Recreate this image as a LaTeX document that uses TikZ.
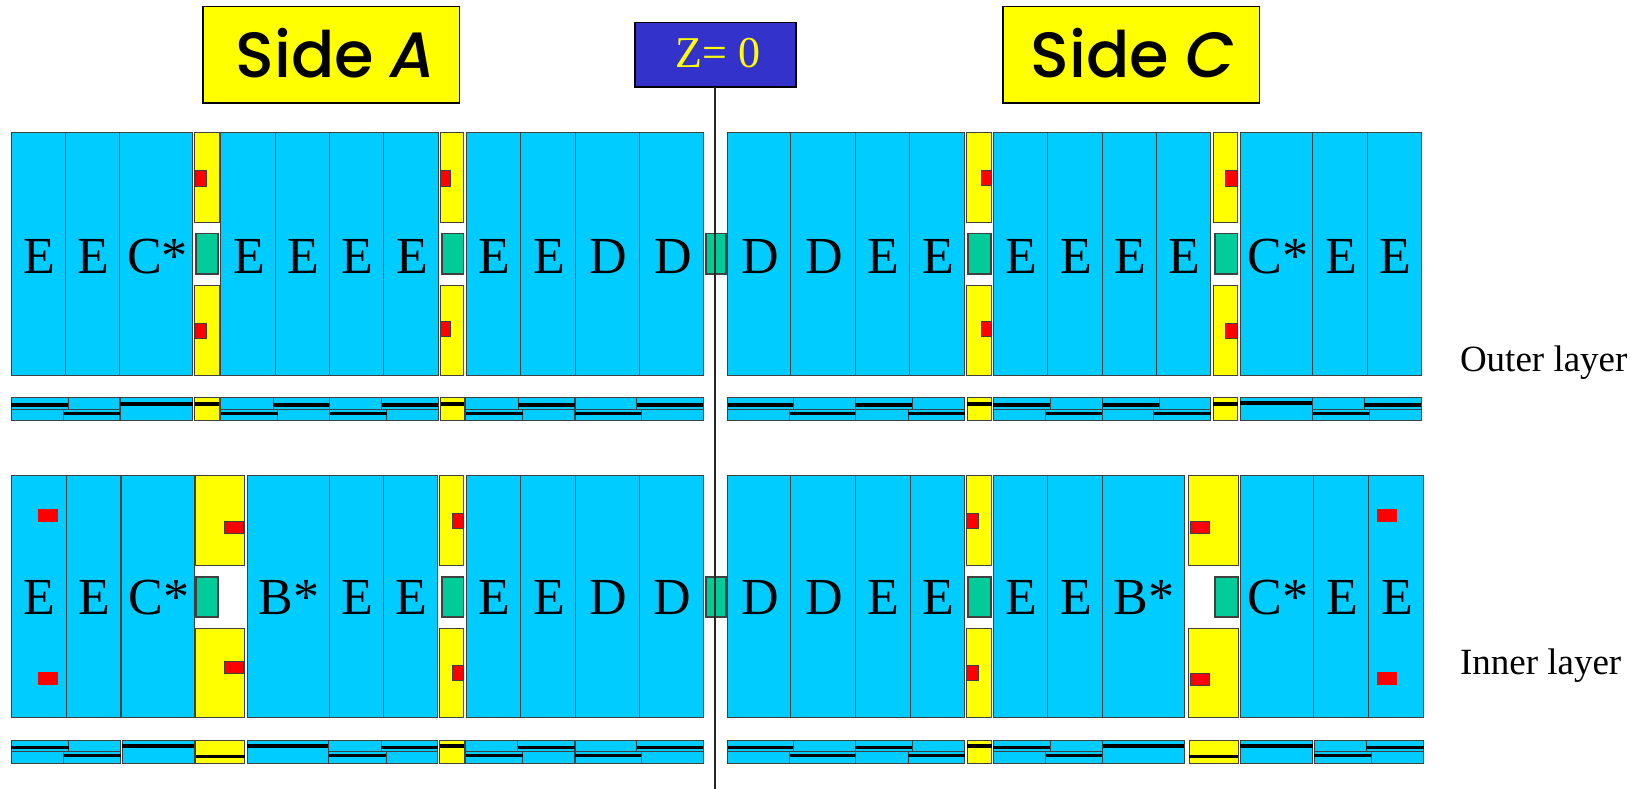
\documentclass[tikz,border=0pt]{standalone}
\usepackage{fontspec}
\setmainfont{Liberation Serif}
\newfontfamily\sidefont{Poppins Medium}
\newcommand{\labfont}{\fontsize{52}{52}\selectfont}
\definecolor{chamber}{HTML}{00CCFF}
\definecolor{yel}{HTML}{FFFF00}
\definecolor{grn}{HTML}{00CC99}
\definecolor{rd}{HTML}{FF0000}
\definecolor{navy}{HTML}{3333CC}
\tikzset{
  basebox/.style={draw=black!75,line width=1pt,inner sep=0pt,outer sep=0pt,rectangle},
  chamO/.style={basebox,fill=chamber,font=\labfont,text height=38.5pt,text depth=0pt,execute at begin node=\hspace{2.5pt}},
  chamI/.style={basebox,fill=chamber,font=\labfont,text height=36.5pt,text depth=0pt,execute at begin node=\hspace{2.5pt}},
  yelbox/.style={basebox,fill=yel},
  grnbox/.style={basebox,fill=grn,line width=1.7pt},
  redbox/.style={basebox,fill=rd},
  rednb/.style={basebox,fill=rd,draw=none},
  sidebox/.style={basebox,fill=yel,draw=black,line width=1.6pt,font=\sidefont\fontsize{64}{64}\selectfont,text height=45pt,text depth=0pt},
  zbox/.style={basebox,fill=navy,draw=black,line width=1.6pt,text=yel,font=\fontsize{44}{44}\selectfont,text height=25pt,text depth=0pt},
  lab/.style={inner sep=0pt,outer sep=0pt,font=\fontsize{37}{37}\selectfont,anchor=base west},
  seg/.style={draw=black!75,line width=1pt},
  thick bar/.style={line width=3.4pt,black},
}
% name, style, x1, y1, x2, y2, text
\newcommand{\rc}[7]{\node[#2,minimum width={(#5)-(#3)},minimum height={(#6)-(#4)}] (#1) at ({((#3)+(#5))/2},{((#4)+(#6))/2}) {#7};}
% strip helpers
\newcommand{\stripbox}[5]{\filldraw[seg,fill=#1] (#2,#3) rectangle (#4,#5);}
\newcommand{\stripbar}[3]{\draw[thick bar] (#1,#3) -- (#2,#3);}
% pair: xl, xt, xb, xr
\newcommand{\spair}[4]{%
  \stripbox{chamber}{#1}{\sT}{#2}{\sM}\stripbox{chamber}{#2}{\sT}{#4}{\sM}%
  \stripbox{chamber}{#1}{\sM}{#3}{\sB}\stripbox{chamber}{#3}{\sM}{#4}{\sB}%
  \pgfmathparse{(#2)>(#3)?1:0}%
  \ifdim\pgfmathresult pt>0.5pt \stripbar{#1}{#2}{\lT}\stripbar{#3}{#4}{\lB}\else\stripbar{#2}{#4}{\lT}\stripbar{#1}{#3}{\lB}\fi}
% single: colour, xl, xr, ybar
\newcommand{\sone}[4]{\stripbox{#1}{#2}{\sT}{#3}{\sB}\stripbar{#2}{#3}{#4}}
\begin{document}
\begin{tikzpicture}[x=1pt,y=-1pt]
\useasboundingbox (0,0) rectangle (1646,789);
\fill[white] (0,0) rectangle (1646,789);
% header boxes
\rc{sideA}{sidebox}{202.7}{6.5}{459.3}{103}{\hspace{9pt}Side \textit{A}}
\rc{sideC}{sidebox}{1002.7}{6.5}{1259.3}{103}{\hspace{4pt}Side \textit{C}}
\rc{zzero}{zbox}{634.7}{22.7}{795.7}{87.3}{\hspace{6pt}Z= 0}
% outer layer chambers
\def\yt{133}\def\yb{375}
\rc{oa1}{chamO}{11}{\yt}{65.5}{\yb}{E}
\rc{oa2}{chamO}{65.5}{\yt}{119.5}{\yb}{E}
\rc{oa3}{chamO}{119.5}{\yt}{192.7}{\yb}{C*}
\rc{oa4}{chamO}{220.5}{\yt}{275.3}{\yb}{E}
\rc{oa5}{chamO}{275.3}{\yt}{329.5}{\yb}{E}
\rc{oa6}{chamO}{329.5}{\yt}{383.7}{\yb}{E}
\rc{oa7}{chamO}{383.7}{\yt}{438}{\yb}{E}
\rc{oa8}{chamO}{466.2}{\yt}{520.5}{\yb}{E}
\rc{oa9}{chamO}{520.5}{\yt}{575}{\yb}{E}
\rc{oa10}{chamO}{575}{\yt}{639.5}{\yb}{D}
\rc{oa11}{chamO}{639.5}{\yt}{703.7}{\yb}{D}
\rc{oc1}{chamO}{727}{\yt}{790.7}{\yb}{D}
\rc{oc2}{chamO}{790.7}{\yt}{855}{\yb}{D}
\rc{oc3}{chamO}{855}{\yt}{909.7}{\yb}{E}
\rc{oc4}{chamO}{909.7}{\yt}{964.3}{\yb}{E}
\rc{oc5}{chamO}{993.3}{\yt}{1047.7}{\yb}{E}
\rc{oc6}{chamO}{1047.7}{\yt}{1102.3}{\yb}{E}
\rc{oc7}{chamO}{1102.3}{\yt}{1156.3}{\yb}{E}
\rc{oc8}{chamO}{1156.3}{\yt}{1210.7}{\yb}{E}
\rc{oc9}{chamO}{1240.3}{\yt}{1312.7}{\yb}{C*}
\rc{oc10}{chamO}{1312.7}{\yt}{1367}{\yb}{E}
\rc{oc11}{chamO}{1367}{\yt}{1421.3}{\yb}{E}
% outer yellows
\def\ya{222.7}\def\yc{285}
\rc{oy1t}{yelbox}{194.5}{\yt}{219}{\ya}{}
\rc{oy1b}{yelbox}{194.5}{\yc}{219}{\yb}{}
\rc{oy2t}{yelbox}{440.5}{\yt}{463.8}{\ya}{}
\rc{oy2b}{yelbox}{440.5}{\yc}{463.8}{\yb}{}
\rc{oy3t}{yelbox}{966.7}{\yt}{991.7}{\ya}{}
\rc{oy3b}{yelbox}{966.7}{\yc}{991.7}{\yb}{}
\rc{oy4t}{yelbox}{1213}{\yt}{1237.7}{\ya}{}
\rc{oy4b}{yelbox}{1213}{\yc}{1237.7}{\yb}{}
% outer greens
\rc{og1}{grnbox}{195.7}{233.5}{218.3}{274}{}
\rc{og2}{grnbox}{441.7}{233.5}{463.5}{274}{}
\rc{og3}{grnbox}{705.7}{233.5}{726}{274}{}
\rc{og4}{grnbox}{967.7}{233.5}{990.7}{274}{}
\rc{og5}{grnbox}{1214.7}{233.5}{1237.5}{274}{}
% outer reds
\rc{or1}{redbox}{195}{170.7}{206.7}{186}{}
\rc{or2}{redbox}{195}{323.3}{206.7}{338.3}{}
\rc{or3}{redbox}{440.7}{170.7}{450}{186}{}
\rc{or4}{redbox}{440.7}{321.3}{450}{336.3}{}
\rc{or5}{redbox}{981.3}{170.3}{991.7}{185.7}{}
\rc{or6}{redbox}{981.3}{321.3}{991.7}{336.3}{}
\rc{or7}{redbox}{1225.7}{170.7}{1237.7}{186}{}
\rc{or8}{redbox}{1225.7}{323.3}{1237.7}{338.3}{}
% outer strips
\def\sT{397.3}\def\sM{409}\def\sB{420.7}\def\lT{405}\def\lB{413.3}
\spair{11}{68}{63.5}{119.5}
\sone{chamber}{120}{192.5}{404}
\sone{yel}{194.5}{219}{404}
\spair{220.5}{273}{277.5}{329.5}
\spair{329.5}{381.5}{386.5}{438}
\sone{yel}{440.5}{464}{404}
\spair{465.5}{518}{522.5}{574.5}
\spair{575}{636.5}{641}{703}
\spair{727.5}{793}{789.5}{855}
\spair{855}{912}{908}{964.5}
\sone{yel}{967}{991.5}{404}
\spair{993}{1050}{1045.5}{1102}
\spair{1102.5}{1159}{1153.5}{1210.5}
\sone{yel}{1213}{1237.5}{404}
\sone{chamber}{1240}{1312.5}{403}
\spair{1312.5}{1364}{1369}{1421}
% inner layer chambers
\def\yt{475.7}\def\yb{717.7}
\rc{ia1}{chamI}{11}{\yt}{66}{\yb}{E}
\rc{ia2}{chamI}{66}{\yt}{120.5}{\yb}{E}
\rc{ia3}{chamI}{121.3}{\yt}{194.3}{\yb}{C*}
\rc{ia4}{chamI}{247}{\yt}{329}{\yb}{B*}
\rc{ia5}{chamI}{329}{\yt}{383.5}{\yb}{E}
\rc{ia6}{chamI}{383.5}{\yt}{437.7}{\yb}{E}
\rc{ia7}{chamI}{466.2}{\yt}{520.5}{\yb}{E}
\rc{ia8}{chamI}{520.5}{\yt}{575}{\yb}{E}
\rc{ia9}{chamI}{575}{\yt}{639.5}{\yb}{D}
\rc{ia10}{chamI}{639.5}{\yt}{703.5}{\yb}{D}
\rc{ic1}{chamI}{727}{\yt}{790.7}{\yb}{D}
\rc{ic2}{chamI}{790.7}{\yt}{855}{\yb}{D}
\rc{ic3}{chamI}{855}{\yt}{910}{\yb}{E}
\rc{ic4}{chamI}{910}{\yt}{964.3}{\yb}{E}
\rc{ic5}{chamI}{993}{\yt}{1047.3}{\yb}{E}
\rc{ic6}{chamI}{1047.3}{\yt}{1102}{\yb}{E}
\rc{ic7}{chamI}{1102}{\yt}{1184}{\yb}{B*}
\rc{ic8}{chamI}{1240.3}{\yt}{1313.7}{\yb}{C*}
\rc{ic9}{chamI}{1313.7}{\yt}{1368.3}{\yb}{E}
\rc{ic10}{chamI}{1368.3}{\yt}{1423.3}{\yb}{E}
% inner yellows
\def\ya{565.3}\def\yc{628.3}
\rc{iy1t}{yelbox}{195.7}{\yt}{244.7}{\ya}{}
\rc{iy1b}{yelbox}{195.7}{\yc}{244.7}{\yb}{}
\rc{iy2t}{yelbox}{439.7}{\yt}{463.8}{\ya}{}
\rc{iy2b}{yelbox}{439.7}{\yc}{463.8}{\yb}{}
\rc{iy3t}{yelbox}{966.7}{\yt}{991.7}{\ya}{}
\rc{iy3b}{yelbox}{966.7}{\yc}{991.7}{\yb}{}
\rc{iy4t}{yelbox}{1188.3}{\yt}{1238}{\ya}{}
\rc{iy4b}{yelbox}{1188.3}{\yc}{1238}{\yb}{}
% inner greens
\rc{ig1}{grnbox}{195.7}{577}{218.3}{616.7}{}
\rc{ig2}{grnbox}{441.7}{577}{463.5}{616.7}{}
\rc{ig3}{grnbox}{705.7}{577}{726}{616.7}{}
\rc{ig4}{grnbox}{967.7}{577}{990.7}{616.7}{}
\rc{ig5}{grnbox}{1214.7}{577}{1237.7}{616.7}{}
% inner reds
\rc{ir1}{rednb}{38}{509}{58}{522}{}
\rc{ir2}{rednb}{38}{672}{58}{685}{}
\rc{ir3}{redbox}{224}{521}{243.7}{533}{}
\rc{ir4}{redbox}{224}{661}{243.7}{673}{}
\rc{ir5}{redbox}{452.3}{513.3}{463.8}{528.7}{}
\rc{ir6}{redbox}{452.3}{665}{463.8}{680.7}{}
\rc{ir7}{redbox}{966.7}{513.3}{978.7}{528.7}{}
\rc{ir8}{redbox}{966.7}{665}{978.7}{680.7}{}
\rc{ir9}{redbox}{1190}{521}{1209.7}{533}{}
\rc{ir10}{redbox}{1190}{673.7}{1209.7}{685.7}{}
\rc{ir11}{rednb}{1377}{509}{1397}{522}{}
\rc{ir12}{rednb}{1377}{672}{1397}{685}{}
% inner strips
\def\sT{740.3}\def\sM{751.7}\def\sB{763.3}\def\lT{747.3}\def\lB{755.7}
\spair{11}{68.5}{63.5}{120.5}
\sone{chamber}{122}{194}{746}
\sone{yel}{195.5}{244.5}{756.7}
\sone{chamber}{247}{328.5}{746}
\spair{328.5}{381}{386}{437.5}
\sone{yel}{439.5}{464}{746}
\spair{465.5}{517.5}{522.5}{574.5}
\spair{575}{636.5}{641}{703}
\spair{727.5}{793}{789.5}{855}
\spair{855}{912}{908}{964.5}
\sone{yel}{967}{991.5}{746}
\spair{993}{1050}{1045.5}{1102}
\sone{chamber}{1102.5}{1184}{746}
\sone{yel}{1189}{1238}{756.7}
\sone{chamber}{1240}{1312.5}{746}
\spair{1314}{1366}{1371}{1423.5}
% side labels
\node[lab] (outerlab) at (1460,371.5) {Outer layer};
\node[lab] (innerlab) at (1460,674.5) {Inner layer};
% Z axis
\coordinate (zend) at (715.3,789);
\draw[line width=1.8pt,black!85] (zzero.south -| zend) -- (zend);
\end{tikzpicture}
\end{document}
